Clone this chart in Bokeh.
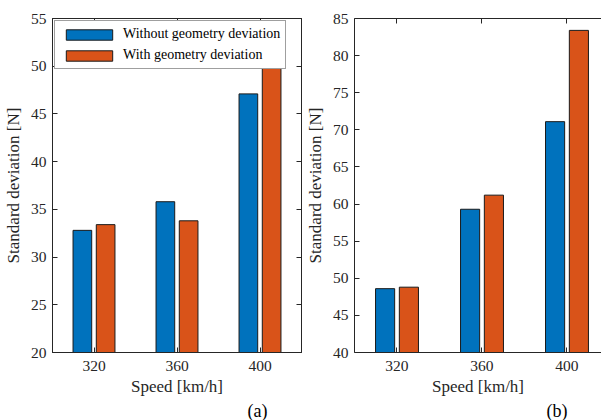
from bokeh.plotting import figure
from bokeh.models import Range1d, FixedTicker, LinearAxis, Title, ColumnDataSource, CustomJSTickFormatter
from bokeh.layouts import row
from bokeh.transform import dodge
from bokeh.embed import file_html
from bokeh.resources import INLINE

speeds = ["320", "360", "400"]
a_without = [32.8, 35.8, 47.1]
a_with = [33.4, 33.8, 50.0]
b_without = [48.6, 59.3, 71.1]
b_with = [48.8, 61.2, 83.4]

BLUE = "#0072BD"
ORANGE = "#D95319"
INK = "#262626"
FONT = "Liberation Serif"

xs = list(range(1, len(speeds) + 1))
overrides = {x: s for x, s in zip(xs, speeds)}


def style_axis(ax, show_labels=True):
    ax.major_tick_in = 5
    ax.major_tick_out = 0
    ax.minor_tick_in = 0
    ax.minor_tick_out = 0
    ax.axis_line_color = INK
    ax.major_tick_line_color = INK
    ax.major_label_text_font = FONT
    ax.major_label_text_color = INK
    ax.major_label_text_font_size = "15.5px"
    ax.axis_label_text_font = FONT
    ax.axis_label_text_font_size = "17px"
    ax.axis_label_text_font_style = "normal"
    ax.axis_label_text_color = INK
    if not show_labels:
        ax.formatter = CustomJSTickFormatter(code="return ''")
        ax.major_label_standoff = 0
        ax.axis_label = None


def panel(without, withv, yr, xr, width, bl, br, yticks, tag, legend, right_axis):
    p = figure(width=width, height=420, output_backend="svg", toolbar_location=None,
               x_range=Range1d(*xr), y_range=Range1d(*yr),
               min_border_left=bl, min_border_right=br, min_border_top=18, min_border_bottom=66)
    p.grid.visible = False
    p.outline_line_color = INK if right_axis else None
    p.background_fill_color = "white"
    p.border_fill_color = "white"
    src = ColumnDataSource(dict(x=xs, without=without, withv=withv))
    kw = dict(width=0.225, bottom=yr[0], line_color="#1a1a1a", line_width=1)
    if legend:
        p.vbar(x=dodge("x", -0.14), top="without", source=src, fill_color=BLUE,
               legend_label="Without geometry deviation", **kw)
        p.vbar(x=dodge("x", 0.14), top="withv", source=src, fill_color=ORANGE,
               legend_label="With geometry deviation", **kw)
    else:
        p.vbar(x=dodge("x", -0.14), top="without", source=src, fill_color=BLUE, **kw)
        p.vbar(x=dodge("x", 0.14), top="withv", source=src, fill_color=ORANGE, **kw)

    p.xaxis.ticker = FixedTicker(ticks=xs)
    p.xaxis.major_label_overrides = overrides
    p.yaxis.ticker = FixedTicker(ticks=yticks)
    p.xaxis.axis_label = "Speed [km/h]"
    p.yaxis.axis_label = "Standard deviation [N]"
    style_axis(p.xaxis[0])
    style_axis(p.yaxis[0])
    p.xaxis.major_label_standoff = 8
    p.xaxis.axis_label_standoff = 3
    p.yaxis.major_label_standoff = 6

    top = LinearAxis(ticker=FixedTicker(ticks=xs))
    style_axis(top, False)
    p.add_layout(top, "above")
    if right_axis:
        rt = LinearAxis(ticker=FixedTicker(ticks=yticks))
        style_axis(rt, False)
        p.add_layout(rt, "right")

    t = Title(text=tag, align="right", offset=34, text_font=FONT, text_font_size="18px",
              text_font_style="normal", text_color="black", standoff=0, text_line_height=1.0)
    p.add_layout(t, "below")

    if legend:
        lg = p.legend[0]
        lg.location = "top_left"
        lg.margin = 2
        lg.padding = 5
        lg.spacing = 5
        lg.glyph_width = 58
        lg.glyph_height = 13
        lg.label_height = 14
        lg.label_standoff = 5
        lg.label_text_font = FONT
        lg.label_text_font_size = "14px"
        lg.label_text_color = "black"
        lg.border_line_color = "#404040"
        lg.border_line_width = 1
        lg.background_fill_alpha = 1
    return p


p1 = panel(a_without, a_with, (20, 55), (0.5, 3.5), 302, 50, 1,
           list(range(20, 56, 5)), "(a)", True, True)
p2 = panel(b_without, b_with, (40, 85), (0.5, 3.406), 299, 52, 0,
           list(range(40, 86, 5)), "(b)", False, False)

layout = row(p1, p2, spacing=0)
open("out.html", "w").write(file_html(layout, INLINE))
